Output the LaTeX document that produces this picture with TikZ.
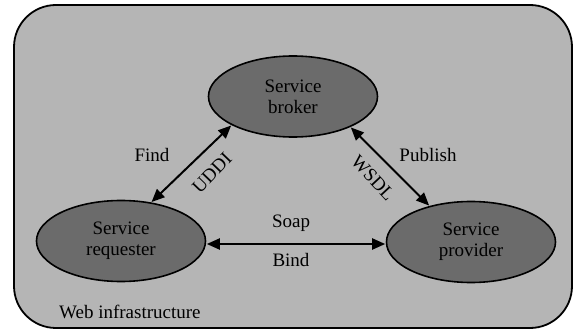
\documentclass[tikz,border=0pt]{standalone}
\usepackage{fontspec}
\setmainfont{Liberation Serif}
\usetikzlibrary{shapes.geometric,arrows.meta}
\definecolor{infra}{gray}{0.71}
\definecolor{role}{gray}{0.42}
\tikzset{
  role/.style={ellipse, draw=black, line width=1.6pt, fill=role,
    minimum width=169pt, minimum height=81pt, inner sep=0pt, align=center,
    font=\fontsize{19}{21}\selectfont},
  lbl/.style={font=\fontsize{19}{21}\selectfont, inner sep=0pt},
  link/.style={line width=2pt, {Triangle[length=13pt,width=11pt]}-{Triangle[length=13pt,width=11pt]}, shorten <=0.5pt, shorten >=0.5pt}
}
\begin{document}
\begin{tikzpicture}[x=1pt,y=1pt]
\useasboundingbox (0,0) rectangle (574,330);
% web infrastructure frame
\draw[line width=1.8pt, fill=infra, rounded corners=42pt] (14,2) rectangle (572,325);
\node[lbl, anchor=west] (web) at (59,18) {Web infrastructure};
% roles
\node[role] (broker) at (293,233.5) {Service\\broker};
\node[role] (req) at (121,89) {Service\\requester};
\node[role] (prov) at (471,88) {Service\\provider};
% connectors
\draw[link] (req.52) -- (broker.205);
\draw[link] (broker.332) -- (prov.139);
\draw[link] (req.east |- 0,86) -- (prov.west |- 0,86);
% labels
\node[lbl] (find) at (152,175) {Find};
\node[lbl] (publish) at (428,175) {Publish};
\node[lbl, rotate=46] (uddi) at (212,157) {UDDI};
\node[lbl, rotate=-47] (wsdl) at (373,152) {WSDL};
\node[lbl] (soap) at (291,107) {Soap};
\node[lbl] (bind) at (291,70) {Bind};
\end{tikzpicture}
\end{document}
